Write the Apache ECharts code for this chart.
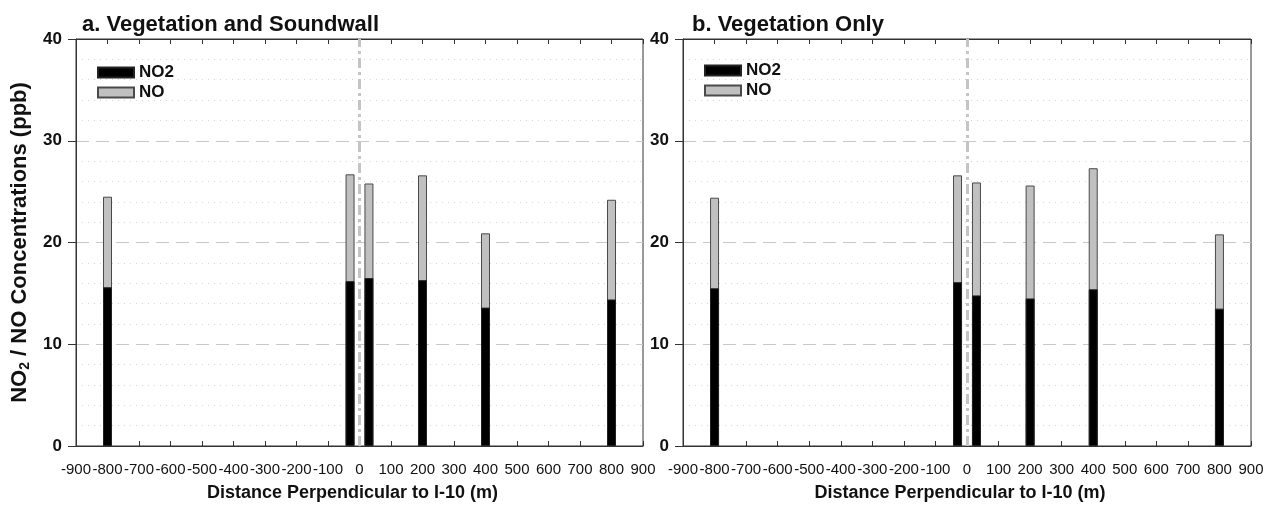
<!DOCTYPE html>
<html>
<head>
<meta charset="utf-8">
<script src="https://cdn.jsdelivr.net/npm/echarts@6/dist/echarts.min.js"></script>
<style>html,body{margin:0;padding:0;background:#fff}#c{width:1272px;height:513px}</style>
</head>
<body>
<div id="c"></div>
<script>
// Distances perpendicular to I-10 (m)
const positions = [-800, -30, 30, 200, 400, 800];
// Panel a: Vegetation and Soundwall
const no2A = [15.6, 16.2, 16.5, 16.3, 13.6, 14.4];
const noA  = [8.9, 10.5, 9.3, 10.3, 7.3, 9.8];
// Panel b: Vegetation Only
const no2B = [15.5, 16.1, 14.8, 14.5, 15.4, 13.5];
const noB  = [8.9, 10.5, 11.1, 11.1, 11.9, 7.3];
const yTicks = [0, 10, 20, 30, 40];
const titles = ['a. Vegetation and Soundwall', 'b. Vegetation Only'];
const xTitle = 'Distance Perpendicular to I-10 (m)';

const grids = [
  {left: 76, top: 39, width: 567, height: 407},
  {left: 683, top: 39, width: 568, height: 407}
];
const FONT = 'Liberation Sans, Arial, sans-serif';

const xAxes = [], yAxes = [], series = [], legends = [], titleOpts = [];
[[no2A, noA],[no2B, noB]].forEach((d, gi) => {
  xAxes.push({
    gridIndex: gi, type: 'value', min: -900, max: 900, interval: 100, position: 'bottom',
    axisLine: {show: true, onZero: false, lineStyle: {color: '#333', width: 1}},
    axisTick: {show: true, inside: true, length: 5, lineStyle: {color: '#333'}},
    axisLabel: {color: '#111', fontSize: 15, fontFamily: FONT, margin: 16},
    splitLine: {show: false},
    name: xTitle, nameLocation: 'middle', nameGap: 38,
    nameTextStyle: {fontSize: 18, fontWeight: 'bold', color: '#111', fontFamily: FONT, padding: [0, 14, 0, 0]}
  });
  xAxes.push({
    gridIndex: gi, type: 'value', min: -900, max: 900, interval: 100, position: 'top',
    axisLine: {show: true, onZero: false, lineStyle: {color: '#333', width: 1}},
    axisTick: {show: true, inside: true, length: 5, lineStyle: {color: '#333'}},
    axisLabel: {show: false}, splitLine: {show: false}
  });
  yAxes.push({
    gridIndex: gi, type: 'value', min: yTicks[0], max: yTicks[yTicks.length - 1], interval: 10,
    axisLine: {show: true, onZero: false, lineStyle: {color: '#333', width: 1}},
    axisTick: {show: true, length: 8, lineStyle: {color: '#333'}},
    axisLabel: {color: '#111', fontSize: 17, fontWeight: 'bold', fontFamily: FONT, margin: 14},
    splitLine: {show: true, lineStyle: {color: '#c8c8c8', width: 1, type: [13, 7]}},
    minorTick: {show: false, splitNumber: 5},
    minorSplitLine: {show: true, lineStyle: {color: '#d4d4d4', width: 1, type: [1, 5]}},
    name: gi === 0 ? '{a|NO}{s|2}{a| / NO Concentrations (ppb)}' : '',
    nameLocation: 'middle', nameGap: 44, nameRotate: 90,
    nameTextStyle: {
      fontFamily: FONT,
      rich: {
        a: {fontSize: 22, fontWeight: 'bold', color: '#111', fontFamily: FONT, lineHeight: 24},
        s: {fontSize: 14, fontWeight: 'bold', color: '#111', fontFamily: FONT, lineHeight: 24, verticalAlign: 'bottom', padding: [9, 0, 0, 0]}
      }
    }
  });
  const xi = gi * 2;
  // NO stacked on top of NO2: the light bar reaches NO2 + NO, the dark bar covers the NO2 part
  series.push({
    name: 'NO', type: 'bar', xAxisIndex: xi, yAxisIndex: gi,
    barWidth: 9, barGap: '-100%',
    data: positions.map((x, i) => [x, +(d[0][i] + d[1][i]).toFixed(2)]),
    itemStyle: {color: '#c0c0c0', borderColor: '#4a4a4a', borderWidth: 1},
    markLine: {
      silent: true, symbol: 'none', label: {show: false},
      lineStyle: {color: '#c4c4c4', width: 3, type: [10, 4, 3, 4]},
      data: [{xAxis: 0}]
    },
    z: 3
  });
  series.push({
    name: 'NO2', type: 'bar', xAxisIndex: xi, yAxisIndex: gi,
    barWidth: 9, barGap: '-100%',
    data: positions.map((x, i) => [x, d[0][i]]),
    itemStyle: {color: '#000', borderColor: '#222', borderWidth: 1},
    z: 4
  });
  legends.push({
    orient: 'vertical', left: gi === 0 ? 97 : 704, top: gi === 0 ? 64 : 62,
    padding: 0,
    itemWidth: 36, itemHeight: 10, itemGap: 3, icon: 'rect',
    data: ['NO2', 'NO'],
    textStyle: {fontSize: 17, fontWeight: 'bold', color: '#111', fontFamily: FONT},
    selectedMode: false
  });
  titleOpts.push({
    text: titles[gi], left: gi === 0 ? 82 : 692, top: 9, padding: [5, 0, 5, 0],
    textStyle: {fontSize: 22, fontWeight: 'bold', color: '#111', fontFamily: FONT}
  });
});

const chart = echarts.init(document.getElementById('c'), null, {renderer: 'canvas'});
chart.setOption({
  animation: false,
  backgroundColor: '#fff',
  title: titleOpts,
  legend: legends,
  grid: grids.map(g => Object.assign({show: true, borderColor: '#333', borderWidth: 1, backgroundColor: 'transparent'}, g)),
  xAxis: xAxes,
  yAxis: yAxes,
  series: series
});
</script>
</body>
</html>
